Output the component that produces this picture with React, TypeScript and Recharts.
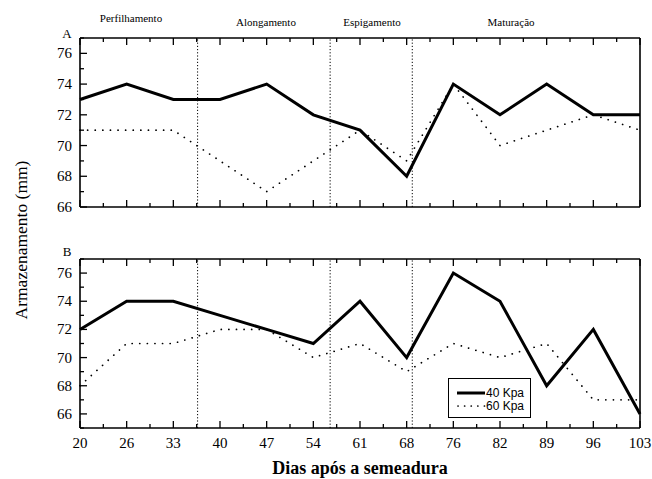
import React from 'react'
import { LineChart, Line, XAxis, YAxis, ReferenceLine, Legend } from 'recharts'

// dias após a semeadura
const days = ['20', '26', '33', '40', '47', '54', '61', '68', '76', '82', '89', '96', '103']

// painel A
const kpa40A = [73, 74, 73, 73, 74, 72, 71, 68, 74, 72, 74, 72, 72]
const kpa60A = [71, 71, 71, 69, 67, 69, 71, 69, 74, 70, 71, 72, 71]

// painel B
const kpa40B = [72, 74, 74, 73, 72, 71, 74, 70, 76, 74, 68, 72, 66]
const kpa60B = [68, 71, 71, 72, 72, 70, 71, 69, 71, 70, 71, 67, 67]

const phases = ['Perfilhamento', 'Alongamento', 'Espigamento', 'Maturação']
// limites entre fases, em posição de categoria
const phaseBounds = [2.52, 5.36, 7.12]

const yTicksA = [66, 67, 68, 69, 70, 71, 72, 73, 74, 75, 76, 77]
const yTicksB = [65, 66, 67, 68, 69, 70, 71, 72, 73, 74, 75, 76, 77]

const serif = 'Liberation Serif, Times New Roman, serif'
const sans = 'Liberation Sans, Arial, sans-serif'

const xTicks = days.flatMap((_, i) => (i < days.length - 1 ? [i, i + 0.5] : [i]))

const dataA = days.map((d, i) => ({ i, day: d, k40: kpa40A[i], k60: kpa60A[i] }))
const dataB = days.map((d, i) => ({ i, day: d, k40: kpa40B[i], k60: kpa60B[i] }))

function XTick(props: any) {
  const { x, y, payload, dir, label } = props
  const major = Number.isInteger(payload.value)
  const len = major ? 7 : 4
  return (
    <g>
      <line x1={x} x2={x} y1={y} y2={y + dir * len} stroke="#000" strokeWidth={1.3} />
      {label && major && (
        <text x={x} y={y + 20} textAnchor="middle" fontSize={15} fontFamily={serif} fill="#000">
          {days[payload.value]}
        </text>
      )}
    </g>
  )
}

function YTick(props: any) {
  const { x, y, payload, dir, label, top } = props
  const even = payload.value % 2 === 0
  const len = even ? 7 : 4
  return (
    <g>
      <line x1={x} x2={x + dir * len} y1={y} y2={y} stroke="#000" strokeWidth={1.3} />
      {label && even && payload.value !== top && (
        <text x={x - 8} y={y + 5} textAnchor="end" fontSize={15} fontFamily={serif} fill="#000">
          {payload.value}
        </text>
      )}
    </g>
  )
}

function LegendBox() {
  return (
    <svg width={84} height={41} style={{ display: 'block' }}>
      <rect x={0.5} y={0.5} width={82} height={39} fill="#fff" stroke="#000" strokeWidth={1} />
      <line x1={9} x2={37} y1={15} y2={15} stroke="#000" strokeWidth={3} />
      <text x={38} y={19} fontSize={12} fontFamily={sans} fill="#000">40 Kpa</text>
      <line x1={10} x2={37} y1={28} y2={28} stroke="#000" strokeWidth={1.7} strokeDasharray="0.1 6.5" strokeLinecap="round" />
      <text x={38} y={32} fontSize={12} fontFamily={sans} fill="#000">60 Kpa</text>
    </svg>
  )
}

function Panel({ data, yDomain, yTicks, xLabels, height, margin, legend }: any) {
  const axisLine = { stroke: '#000', strokeWidth: 1.6 }
  return (
    <LineChart width={652} height={height} data={data} margin={margin}>
      <XAxis
        dataKey="i"
        type="number"
        domain={[0, 12]}
        ticks={xTicks}
        interval={0}
        height={1}
        tickSize={0}
        tickMargin={0}
        tickLine={false}
        axisLine={axisLine}
        tick={(p: any) => <XTick {...p} dir={-1} label={xLabels} />}
      />
      <XAxis
        xAxisId="top"
        orientation="top"
        dataKey="i"
        type="number"
        domain={[0, 12]}
        ticks={xTicks}
        interval={0}
        height={1}
        tickSize={0}
        tickMargin={0}
        tickLine={false}
        axisLine={axisLine}
        tick={(p: any) => <XTick {...p} dir={1} label={false} />}
      />
      <YAxis
        type="number"
        domain={yDomain}
        ticks={yTicks}
        interval={0}
        width={1}
        tickSize={0}
        tickMargin={0}
        tickLine={false}
        axisLine={axisLine}
        tick={(p: any) => <YTick {...p} dir={1} label top={yDomain[1]} />}
      />
      <YAxis
        yAxisId="r"
        orientation="right"
        type="number"
        domain={yDomain}
        ticks={yTicks}
        interval={0}
        width={1}
        tickSize={0}
        tickMargin={0}
        tickLine={false}
        axisLine={axisLine}
        tick={(p: any) => <YTick {...p} dir={-1} label={false} />}
      />
      {phaseBounds.map((b) => (
        <ReferenceLine key={b} x={b} stroke="#000" strokeWidth={1} strokeDasharray="1.2 2" />
      ))}
      <Line
        dataKey="k60"
        name="60 Kpa"
        type="linear"
        stroke="#000"
        strokeWidth={1.7}
        strokeDasharray="0.1 7.5"
        strokeLinecap="round"
        dot={false}
        isAnimationActive={false}
      />
      <Line
        dataKey="k40"
        name="40 Kpa"
        type="linear"
        stroke="#000"
        strokeWidth={3}
        dot={false}
        isAnimationActive={false}
      />
      {legend && (
        <Legend
          layout="horizontal"
          verticalAlign="middle"
          align="center"
          content={() => <LegendBox />}
          wrapperStyle={{ left: 448, top: 163, width: 84, height: 41 }}
        />
      )}
    </LineChart>
  )
}

export default function App() {
  return (
    <div style={{ position: 'absolute', left: 0, top: 0, width: 652, height: 479, background: '#fff' }}>
      <div style={{ position: 'absolute', left: 0, top: 0 }}>
        <Panel
          data={dataA}
          yDomain={[66, 77]}
          yTicks={yTicksA}
          xLabels={false}
          height={215}
          margin={{ top: 37, right: 11, bottom: 7, left: 79 }}
        />
      </div>
      <div style={{ position: 'absolute', left: 0, top: 215 }}>
        <Panel
          data={dataB}
          yDomain={[65, 77]}
          yTicks={yTicksB}
          xLabels
          height={250}
          margin={{ top: 43, right: 11, bottom: 36, left: 79 }}
          legend
        />
      </div>
      <svg
        width={652}
        height={479}
        style={{ position: 'absolute', left: 0, top: 0, pointerEvents: 'none' }}
      >
        <text x={131} y={22} textAnchor="middle" fontSize={11} fontFamily={serif}>{phases[0]}</text>
        <text x={266} y={26} textAnchor="middle" fontSize={11} fontFamily={serif}>{phases[1]}</text>
        <text x={372} y={26} textAnchor="middle" fontSize={11} fontFamily={serif}>{phases[2]}</text>
        <text x={511} y={26} textAnchor="middle" fontSize={11} fontFamily={serif}>{phases[3]}</text>
        <text x={67} y={38} textAnchor="middle" fontSize={13} fontFamily={serif}>A</text>
        <text x={67} y={256} textAnchor="middle" fontSize={13} fontFamily={serif}>B</text>
        <text
          x={0}
          y={0}
          transform="translate(27 240) rotate(-90)"
          textAnchor="middle"
          fontSize={17.5}
          fontFamily={serif}
        >
          Armazenamento (mm)
        </text>
        <text x={360} y={474} textAnchor="middle" fontSize={18} fontWeight="bold" fontFamily={serif}>
          Dias após a semeadura
        </text>
      </svg>
    </div>
  )
}
